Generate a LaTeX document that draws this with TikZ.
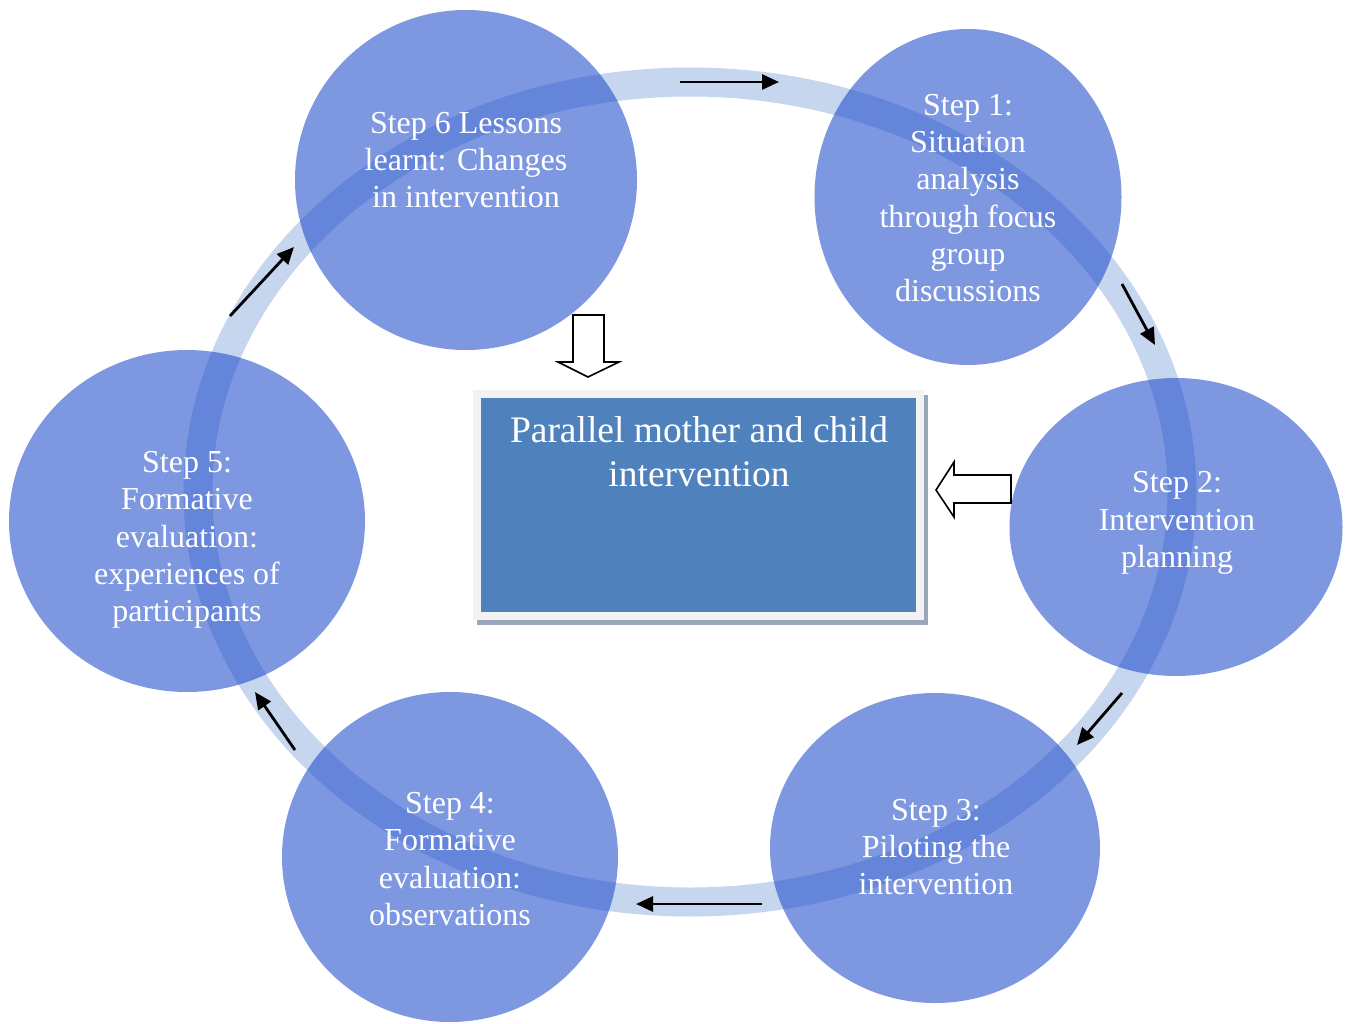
\documentclass[tikz,border=0pt]{standalone}
\usepackage{fontspec}
\setmainfont{Liberation Serif}
\usetikzlibrary{shapes.geometric,arrows.meta}
\definecolor{ringc}{RGB}{198,214,239}
\definecolor{circc}{RGB}{20,68,202}
\definecolor{boxc}{RGB}{79,129,189}
\definecolor{framec}{RGB}{242,242,242}
\definecolor{shadc}{RGB}{155,167,184}
\begin{document}
\begin{tikzpicture}[x=1pt,y=-1pt,
  stepcirc/.style={ellipse, fill=circc, fill opacity=0.55, draw=none, inner sep=0pt},
  steptext/.style={text=white, align=center, font=\fontsize{32}{37.3}\selectfont, inner sep=0pt},
  flowarrow/.style={line width=2.8pt, -{Triangle[length=17pt,width=15pt]}},
  hollow/.style={draw=black, fill=white, line width=1.6pt, line join=miter}]
\useasboundingbox (0,0) rectangle (1355,1023);
\fill[white] (0,0) rectangle (1355,1023);
% ring
\draw[draw=ringc, line width=29pt] (690,492) ellipse [x radius=492pt, y radius=410pt];
% circles
\node[stepcirc, minimum width=342pt, minimum height=340pt] (s6) at (466,180) {};
\node[stepcirc, minimum width=307pt, minimum height=336pt] (s1) at (968,197) {};
\node[stepcirc, minimum width=333pt, minimum height=298pt] (s2) at (1176,527) {};
\node[stepcirc, minimum width=330pt, minimum height=310pt] (s3) at (935,848) {};
\node[stepcirc, minimum width=336pt, minimum height=330pt] (s4) at (450,857) {};
\node[stepcirc, minimum width=356pt, minimum height=342pt] (s5) at (187,521) {};
% texts
\node[steptext] (t6) at (466,160) {Step 6 Lessons\\learnt: Changes\\in intervention};
\node[steptext] (t1) at (968,198) {Step 1:\\Situation\\analysis\\through focus\\group\\discussions};
\node[steptext] (t2) at (1177,523) {Step 2:\\Intervention\\planning};
\node[steptext] (t3) at (936,847) {Step 3:\\Piloting the\\intervention};
\node[steptext] (t4) at (450,859) {Step 4:\\Formative\\evaluation:\\observations};
\node[steptext] (t5) at (187,540) {Step 5:\\Formative\\evaluation:\\experiences of\\participants};
% central box
\fill[shadc] (477,395) rectangle (928,625);
\node[fill=boxc, draw=framec, line width=8pt, minimum width=443pt, minimum height=222pt, inner sep=0pt] (box) at (698.5,505) {};
\node[text=white, align=center, font=\fontsize{37.5}{44}\selectfont, inner sep=0pt] (boxt) at (699,452)
  {Parallel mother and child\\intervention};
% hollow arrows
\draw[hollow] (573,315) -- (604,315) -- (604,362) -- (619,362) -- (588,377) -- (558,362) -- (573,362) -- cycle;
\draw[hollow] (1011,475) -- (954,475) -- (954,462) -- (936,490) -- (954,517) -- (954,503) -- (1011,503) -- cycle;
% flow arrows
\coordinate (a1s) at (680,82);   \coordinate (a1e) at (779,82);
\coordinate (a2s) at (1122,284); \coordinate (a2e) at (1155,345);
\coordinate (a3s) at (1122,693); \coordinate (a3e) at (1077,745);
\coordinate (a4s) at (762,904);  \coordinate (a4e) at (636,904);
\coordinate (a5s) at (295,750);  \coordinate (a5e) at (255,692);
\coordinate (a6s) at (230,316);  \coordinate (a6e) at (294,247);
\draw[flowarrow] (a1s) -- (a1e);
\draw[flowarrow] (a2s) -- (a2e);
\draw[flowarrow] (a3s) -- (a3e);
\draw[flowarrow] (a4s) -- (a4e);
\draw[flowarrow] (a5s) -- (a5e);
\draw[flowarrow] (a6s) -- (a6e);
\end{tikzpicture}
\end{document}
